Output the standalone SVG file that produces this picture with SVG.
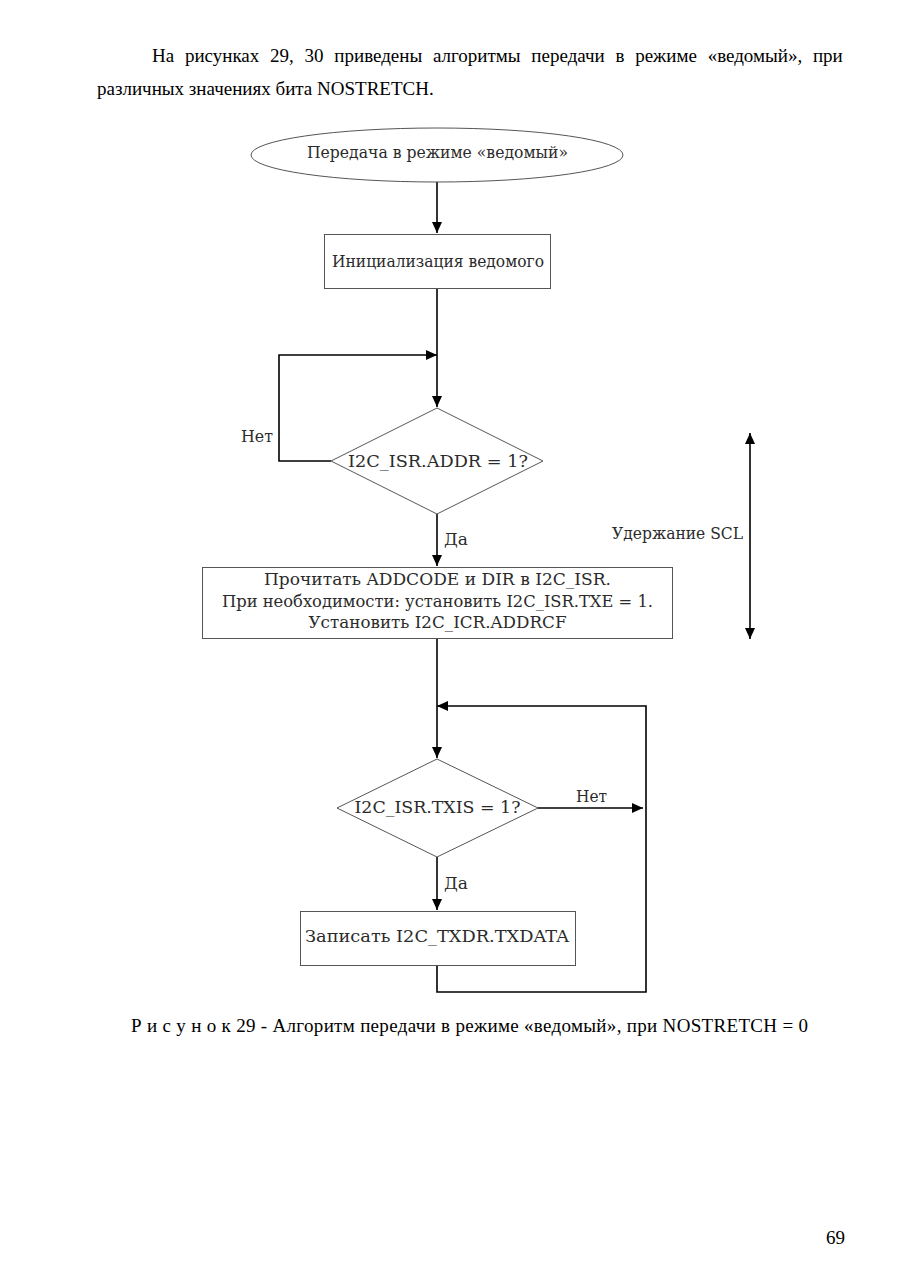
<svg xmlns="http://www.w3.org/2000/svg" width="910" height="1287" viewBox="0 0 910 1287">
<style>
.body{font-family:'Liberation Serif',serif;font-size:19px;fill:#000}
.t{font-family:'DejaVu Serif',serif;font-size:17px;fill:#2b2b2b;text-anchor:middle}
.lbl{font-family:'DejaVu Serif',serif;font-size:17px;fill:#2b2b2b}
.shape{fill:#fff;stroke:#555;stroke-width:1}
.conn{fill:none;stroke:#000;stroke-width:1.6}
</style>
<defs>
<marker id="ah" markerUnits="userSpaceOnUse" markerWidth="11" markerHeight="10" refX="11" refY="5" orient="auto-start-reverse">
<path d="M0,0 L11,5 L0,10 z" fill="#000"/>
</marker>
</defs>
<rect width="910" height="1287" fill="#fff"/>
<text class="body" x="152" y="62" style="word-spacing:6px">На рисунках 29, 30 приведены алгоритмы передачи в режиме «ведомый», при</text>
<text class="body" x="97" y="95">различных значениях бита NOSTRETCH.</text>

<g id="connectors">
<path class="conn" d="M437,182 V233" marker-end="url(#ah)"/>
<path class="conn" d="M437,289 V407" marker-end="url(#ah)"/>
<path class="conn" d="M331,461 H279 V355 H437" marker-end="url(#ah)"/>
<path class="conn" d="M437,514 V566" marker-end="url(#ah)"/>
<path class="conn" d="M437,639 V758" marker-end="url(#ah)"/>
<path class="conn" d="M538,808 H643" marker-end="url(#ah)"/>
<path class="conn" d="M437,857 V910" marker-end="url(#ah)"/>
<path class="conn" d="M437,966 V992 H646 V706 H437" marker-end="url(#ah)"/>
<path class="conn" d="M750,433 V639" marker-start="url(#ah)" marker-end="url(#ah)"/>
<text class="lbl" x="241" y="442" textLength="32" lengthAdjust="spacingAndGlyphs">Нет</text>
<text class="lbl" x="444" y="545" textLength="24" lengthAdjust="spacingAndGlyphs">Да</text>
<text class="lbl" x="576" y="802" textLength="31" lengthAdjust="spacingAndGlyphs">Нет</text>
<text class="lbl" x="444" y="889" textLength="24" lengthAdjust="spacingAndGlyphs">Да</text>
<text class="lbl" x="612" y="539" textLength="131" lengthAdjust="spacingAndGlyphs">Удержание SCL</text>
</g>

<g id="start">
<ellipse class="shape" cx="437" cy="155" rx="186" ry="27"/>
<text class="t" x="437.5" y="158" textLength="261" lengthAdjust="spacingAndGlyphs">Передача в режиме «ведомый»</text>
</g>
<g id="init">
<rect class="shape" x="324.5" y="234.5" width="226" height="54"/>
<text class="t" x="438" y="267" textLength="212" lengthAdjust="spacingAndGlyphs">Инициализация ведомого</text>
</g>
<g id="check-addr">
<polygon class="shape" points="437,408 543,461 437,514 331,461"/>
<text class="t" x="438" y="467" textLength="180" lengthAdjust="spacingAndGlyphs">I2C_ISR.ADDR = 1?</text>
</g>
<g id="read-addr">
<rect class="shape" x="202.5" y="567.5" width="470" height="71"/>
<text class="t" x="437.5" y="585" textLength="347" lengthAdjust="spacingAndGlyphs">Прочитать ADDCODE и DIR в I2C_ISR.</text>
<text class="t" x="437.5" y="607" textLength="431" lengthAdjust="spacingAndGlyphs">При необходимости: установить I2C_ISR.TXE = 1.</text>
<text class="t" x="437.5" y="628" textLength="258" lengthAdjust="spacingAndGlyphs">Установить I2C_ICR.ADDRCF</text>
</g>
<g id="check-txis">
<polygon class="shape" points="437,759 538,808 437,857 337,808"/>
<text class="t" x="437.5" y="813" textLength="166" lengthAdjust="spacingAndGlyphs">I2C_ISR.TXIS = 1?</text>
</g>
<g id="write-data">
<rect class="shape" x="300.5" y="911.5" width="275" height="54"/>
<text class="t" x="437" y="942" textLength="264" lengthAdjust="spacingAndGlyphs">Записать I2C_TXDR.TXDATA</text>
</g>

<text class="body" x="131" y="1032" textLength="677" lengthAdjust="spacing">Р и с у н о к 29 - Алгоритм передачи в режиме «ведомый», при NOSTRETCH = 0</text>
<text class="body" x="826" y="1244">69</text>
</svg>
